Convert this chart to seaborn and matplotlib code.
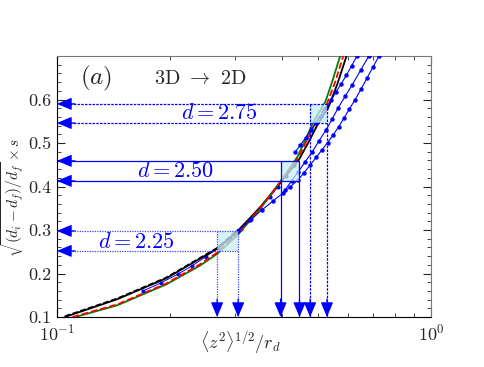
# Scaling collapse 3D -> 2D, panel (a)

import numpy as np
import matplotlib
matplotlib.use("Agg")
import matplotlib.pyplot as plt
import seaborn as sns
from matplotlib.ticker import FixedLocator, MultipleLocator, LogLocator, NullFormatter, FormatStrFormatter
from matplotlib.patches import Rectangle

# collapsed curves: x = <z^2>^(1/2)/r_d, y = sqrt((d_i-d_f)/d_f) * s
black_x = [0.105, 0.145, 0.196, 0.241, 0.268, 0.305, 0.349, 0.395, 0.443, 0.470, 0.495, 0.533, 0.562, 0.597]
black_y = [0.100, 0.141, 0.189, 0.234, 0.257, 0.299, 0.352, 0.408, 0.461, 0.501, 0.539, 0.584, 0.636, 0.705]
blackd_x = [0.105, 0.145, 0.196, 0.241, 0.268, 0.305]
blackd_y = [0.102, 0.143, 0.191, 0.236, 0.259, 0.301]
green_x = [0.112, 0.145, 0.196, 0.241, 0.268, 0.305, 0.349, 0.395, 0.440, 0.464, 0.487, 0.522, 0.546, 0.574]
green_y = [0.100, 0.127, 0.175, 0.218, 0.245, 0.290, 0.348, 0.411, 0.469, 0.512, 0.552, 0.595, 0.645, 0.705]
red_x = [0.110, 0.145, 0.196, 0.241, 0.268, 0.305, 0.349, 0.395, 0.441, 0.466, 0.490, 0.527, 0.554, 0.585]
red_y = [0.100, 0.129, 0.177, 0.221, 0.248, 0.293, 0.350, 0.410, 0.465, 0.506, 0.545, 0.590, 0.640, 0.705]

# blue runs with markers
blueA_x = [0.433, 0.447, 0.462, 0.477, 0.492, 0.508, 0.523, 0.540, 0.557, 0.575, 0.594, 0.613, 0.634, 0.650]
blueA_y = [0.479, 0.495, 0.512, 0.529, 0.546, 0.563, 0.580, 0.598, 0.617, 0.636, 0.656, 0.677, 0.700, 0.717]
blueB_x = [0.407, 0.424, 0.441, 0.460, 0.481, 0.502, 0.524, 0.544, 0.564, 0.589, 0.615, 0.648, 0.682, 0.700]
blueB_y = [0.392, 0.413, 0.433, 0.456, 0.479, 0.505, 0.530, 0.555, 0.580, 0.607, 0.633, 0.667, 0.700, 0.717]
blueC_x = [0.305, 0.328, 0.353, 0.377, 0.402, 0.421, 0.441, 0.458, 0.475, 0.493, 0.511, 0.529, 0.547,
           0.566, 0.585, 0.605, 0.626, 0.650, 0.674, 0.700, 0.726, 0.745]
blueC_y = [0.298, 0.322, 0.346, 0.366, 0.385, 0.400, 0.415, 0.432, 0.449, 0.467, 0.484, 0.501, 0.518,
           0.537, 0.557, 0.578, 0.599, 0.624, 0.649, 0.675, 0.700, 0.717]
blueD_x = [0.170, 0.190, 0.210, 0.230, 0.250, 0.270, 0.290, 0.310, 0.330, 0.350, 0.370, 0.390, 0.410, 0.430]
blueD_y = [0.160, 0.179, 0.198, 0.218, 0.239, 0.258, 0.279, 0.302, 0.325, 0.351, 0.375, 0.400, 0.425, 0.449]

# read-off windows for each d
d_labels = ["$d = 2.25$", "$d = 2.50$", "$d = 2.75$"]
win_x0 = [0.268, 0.396, 0.475]
win_x1 = [0.305, 0.445, 0.527]
win_y0 = [0.252, 0.413, 0.546]
win_y1 = [0.298, 0.459, 0.590]
label_x = [0.1636, 0.207, 0.272]
label_y = [0.272, 0.435, 0.568]

sns.set_style("ticks")
plt.rcParams['font.family'] = 'serif'
plt.rcParams['font.serif'] = ['cmr10', 'DejaVu Serif']
plt.rcParams['mathtext.fontset'] = 'cm'
plt.rcParams['axes.formatter.use_mathtext'] = True
plt.rcParams['axes.unicode_minus'] = False

fig = plt.figure(figsize=(4.85, 3.67), dpi=100)
ax = fig.add_axes([0.1175, 0.1362, 0.7712, 0.7112])

blue = '#0000ff'
for bx, by in [(blueD_x, blueD_y)]:
    sns.lineplot(x=bx, y=by, ax=ax, color=blue, lw=0.7, marker='o', markersize=3,
                 markeredgewidth=0, sort=False, estimator=None, zorder=2)
sns.lineplot(x=blackd_x, y=blackd_y, ax=ax, color='black', lw=1.1, ls='--', sort=False, estimator=None, zorder=2)
sns.lineplot(x=black_x, y=black_y, ax=ax, color='black', lw=1.3, sort=False, estimator=None, zorder=3)
sns.lineplot(x=green_x, y=green_y, ax=ax, color='green', lw=1.3, sort=False, estimator=None, zorder=3)
sns.lineplot(x=red_x, y=red_y, ax=ax, color='red', lw=1.3, ls='--', sort=False, estimator=None, zorder=4)
for bx, by in [(blueA_x, blueA_y), (blueB_x, blueB_y), (blueC_x, blueC_y)]:
    sns.lineplot(x=bx, y=by, ax=ax, color=blue, lw=0.8, marker='o', markersize=3.2,
                 markeredgewidth=0, sort=False, estimator=None, zorder=4)

ax.set_xscale('log')
ax.set_xlim(0.1, 1.0)
ax.set_ylim(0.1, 0.70)

styles = [dict(ls=(0, (1, 1)), color='#4040ff'), dict(ls='-', color=blue), dict(ls=(0, (2, 1)), color=blue)]
for i in range(3):
    x0, x1, y0, y1 = win_x0[i], win_x1[i], win_y0[i], win_y1[i]
    ax.add_patch(Rectangle((x0, y0), x1 - x0, y1 - y0, facecolor='#c6eef5', edgecolor='none',
                           alpha=0.75, zorder=5))
    for yy in (y0, y1):
        ax.plot([x1, 0.1], [yy, yy], lw=0.9, zorder=6, **styles[i])
        ax.annotate("", xy=(0.1, yy), xytext=(13, 0), textcoords='offset points',
                    arrowprops=dict(arrowstyle='-|>,head_length=0.9,head_width=0.38',
                                    color=blue, lw=0.9, shrinkA=0, shrinkB=0), zorder=7)
    for xx in (x0, x1):
        ax.plot([xx, xx], [y1, 0.1], lw=0.9, zorder=6, **styles[i])
        ax.annotate("", xy=(xx, 0.1), xytext=(0, 13), textcoords='offset points',
                    arrowprops=dict(arrowstyle='-|>,head_length=0.9,head_width=0.38',
                                    color=blue, lw=0.9, shrinkA=0, shrinkB=0), zorder=7)
    ax.text(label_x[i], label_y[i], d_labels[i], color=blue, fontsize=16, ha='center', va='center')

ax.text(0.127, 0.648, "$(a)$", fontsize=18, ha='center', va='center')
ax.text(0.241, 0.648, r"3D $\rightarrow$ 2D", fontsize=14.5, ha='center', va='center')

ax.xaxis.set_major_locator(LogLocator(base=10, numticks=5))
ax.xaxis.set_minor_locator(LogLocator(base=10, subs=np.arange(2, 10), numticks=20))
ax.xaxis.set_minor_formatter(NullFormatter())
ax.yaxis.set_major_locator(FixedLocator([0.1, 0.2, 0.3, 0.4, 0.5, 0.6]))
ax.yaxis.set_minor_locator(MultipleLocator(0.02))
ax.yaxis.set_major_formatter(FormatStrFormatter('%.1f'))
ax.tick_params(which='both', direction='in', top=True, right=True, labelsize=13, pad=4)
ax.tick_params(which='major', length=6, width=0.8)
ax.tick_params(which='minor', length=3, width=0.6)
for side in ['left', 'bottom']:
    ax.spines[side].set_color('black')
for side in ['top', 'right']:
    ax.spines[side].set_color('#777777')

ax.set_xlabel(r"$\langle z^2\rangle^{1/2}/r_d$", fontsize=13, va='center')
ax.xaxis.set_label_coords(0.489, -0.10)
ax.set_ylabel(r"$\sqrt{(d_i-d_f)/d_f}\times s$", fontsize=11, va='center')
ax.yaxis.set_label_coords(-0.12, 0.46)

fig.savefig("out.png", dpi=100)
